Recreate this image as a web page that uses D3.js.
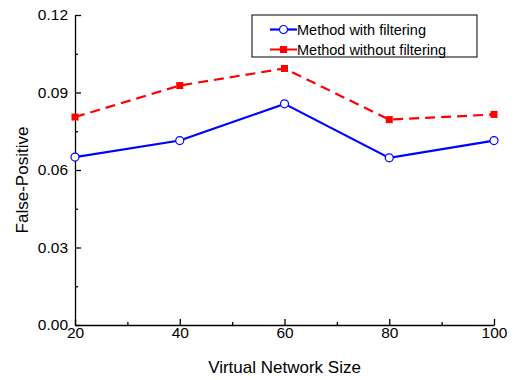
<!DOCTYPE html>
<html>
<head>
<meta charset="utf-8">
<script src="https://cdn.jsdelivr.net/npm/d3@7"></script>
<style>
  body { margin: 0; background: #fff; }
  text { font-family: Arial, "Liberation Sans", sans-serif; fill: #000; }
</style>
</head>
<body>
<div id="chart"></div>
<script>
var sizes = [20, 40, 60, 80, 100];
var withFiltering = [0.065, 0.0714, 0.0856, 0.0647, 0.0714];
var withoutFiltering = [0.0805, 0.0927, 0.0993, 0.0795, 0.0815];
var yTicks = [0, 0.03, 0.06, 0.09, 0.12];
var xTicks = [20, 40, 60, 80, 100];

var width = 517;
var height = 380;
var margin = {left: 75, right: 23, top: 15, bottom: 55};

var svg = d3.select('#chart').append('svg')
  .attr('width', width)
  .attr('height', height);

var xScale = d3.scaleLinear()
  .domain([20, 100])
  .range([margin.left, width - margin.right]);

var yScale = d3.scaleLinear()
  .domain([0, 0.12])
  .range([height - margin.bottom, margin.top]);

// minor ticks (inward)
svg.append('g')
  .attr('transform', 'translate(0,' + (height - margin.bottom) + ')')
  .call(d3.axisBottom(xScale).tickValues([30, 50, 70, 90]).tickSizeInner(-3).tickSizeOuter(0).tickFormat(''))
  .call(function(g) { g.select('.domain').remove(); });

svg.append('g')
  .attr('transform', 'translate(' + margin.left + ',0)')
  .call(d3.axisLeft(yScale).tickValues([0.015, 0.045, 0.075, 0.105]).tickSizeInner(-3).tickSizeOuter(0).tickFormat(''))
  .call(function(g) { g.select('.domain').remove(); });

// major axes
svg.append('g')
  .attr('transform', 'translate(0,' + (height - margin.bottom) + ')')
  .call(d3.axisBottom(xScale).tickValues(xTicks).tickSizeInner(-6).tickSizeOuter(0).tickPadding(2));

svg.append('g')
  .attr('transform', 'translate(' + margin.left + ',0)')
  .call(d3.axisLeft(yScale).tickValues(yTicks).tickSizeInner(-6).tickSizeOuter(0).tickPadding(7)
    .tickFormat(d3.format('.2f')));

svg.selectAll('.tick line, .domain').attr('stroke', '#000').attr('stroke-width', 1.3);
svg.selectAll('.tick text').style('font-size', '15.5px')
  .style('font-family', 'Arial, "Liberation Sans", sans-serif');

// axis labels
svg.append('text')
  .attr('x', (margin.left + width - margin.right) / 2)
  .attr('y', 373)
  .attr('text-anchor', 'middle')
  .style('font-size', '17px')
  .text('Virtual Network Size');

svg.append('text')
  .attr('transform', 'translate(28,180) rotate(-90)')
  .attr('text-anchor', 'middle')
  .style('font-size', '17px')
  .text('False-Positive');

var line = d3.line()
  .x(function(d, i) { return xScale(sizes[i]); })
  .y(function(d) { return yScale(d); });

// red dashed series
svg.append('path')
  .datum(withoutFiltering)
  .attr('d', line)
  .attr('fill', 'none')
  .attr('stroke', '#ff0000')
  .attr('stroke-width', 2.2)
  .attr('stroke-dasharray', '10,6');

svg.selectAll('.sq')
  .data(withoutFiltering)
  .enter()
  .append('rect')
  .attr('x', function(d, i) { return xScale(sizes[i]) - 3.5; })
  .attr('y', function(d) { return yScale(d) - 3.5; })
  .attr('width', 7)
  .attr('height', 7)
  .attr('fill', '#ff0000');

// blue series
svg.append('path')
  .datum(withFiltering)
  .attr('d', line)
  .attr('fill', 'none')
  .attr('stroke', '#0000ff')
  .attr('stroke-width', 2.2);

svg.selectAll('.dot')
  .data(withFiltering)
  .enter()
  .append('circle')
  .attr('cx', function(d, i) { return xScale(sizes[i]); })
  .attr('cy', function(d) { return yScale(d); })
  .attr('r', 4)
  .attr('fill', '#fff')
  .attr('stroke', '#0000ff')
  .attr('stroke-width', 1.2);

// legend
var legend = svg.append('g').attr('transform', 'translate(252,15)');
legend.append('rect')
  .attr('width', 225)
  .attr('height', 42)
  .attr('fill', '#fff')
  .attr('stroke', '#000')
  .attr('stroke-width', 1);

var items = [
  {name: 'Method with filtering', color: '#0000ff', dash: null, marker: 'circle'},
  {name: 'Method without filtering', color: '#ff0000', dash: '10,7,10', marker: 'square'}
];

var rows = legend.selectAll('.item')
  .data(items)
  .enter()
  .append('g')
  .attr('transform', function(d, i) { return 'translate(0,' + (14.5 + i * 20) + ')'; });

rows.append('line')
  .attr('x1', 18).attr('x2', 45)
  .attr('y1', 0).attr('y2', 0)
  .attr('stroke', function(d) { return d.color; })
  .attr('stroke-dasharray', function(d) { return d.dash; })
  .attr('stroke-width', 2.2);

rows.each(function(d) {
  var g = d3.select(this);
  if (d.marker === 'circle') {
    g.append('circle').attr('cx', 31.5).attr('cy', 0).attr('r', 4)
      .attr('fill', '#fff').attr('stroke', d.color).attr('stroke-width', 1.2);
  } else {
    g.append('rect').attr('x', 28).attr('y', -3.5).attr('width', 7).attr('height', 7)
      .attr('fill', d.color);
  }
});

rows.append('text')
  .attr('x', 45)
  .attr('y', 5)
  .style('font-size', '14.5px')
  .text(function(d) { return d.name; });
</script>
</body>
</html>
